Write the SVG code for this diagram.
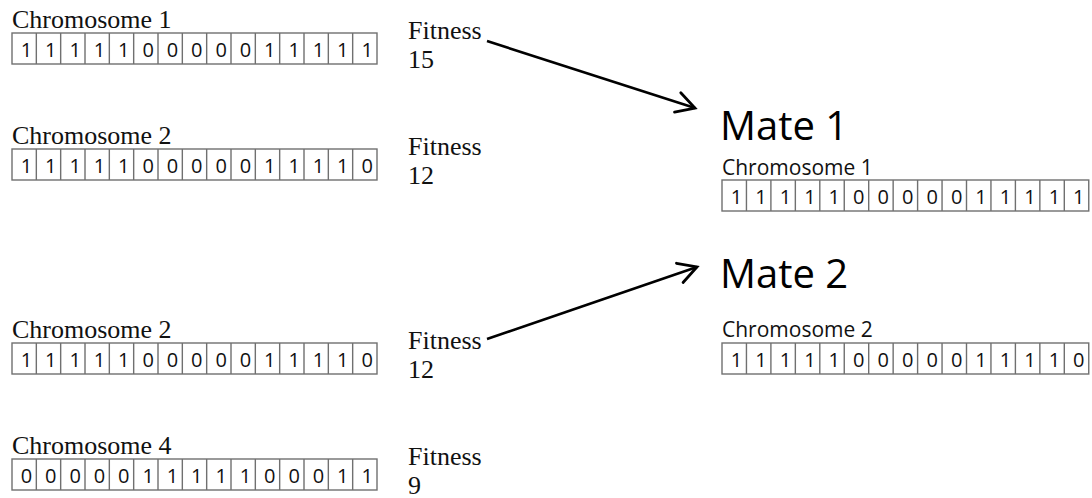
<svg xmlns="http://www.w3.org/2000/svg" xmlns:xlink="http://www.w3.org/1999/xlink" width="1092" height="498" viewBox="0 0 1092 498">
<style>
.lab{font-family:"Liberation Serif","Times New Roman",serif;font-size:26px;fill:#111}
.fit{font-family:"Liberation Serif","Times New Roman",serif;font-size:26px;fill:#111}
.bit{font-family:"Open Sans","Noto Sans",sans-serif;font-size:20px;fill:#111;text-anchor:middle}
.mate{font-family:"Open Sans","Noto Sans",sans-serif;font-size:40px;fill:#000}
.rlab{font-family:"Open Sans","Noto Sans",sans-serif;font-size:21px;fill:#111}
.cell{fill:#fff;stroke:#707070;stroke-width:1.4}
.div{fill:none;stroke:#707070;stroke-width:1.4}
.arrow{fill:none;stroke:#000;stroke-width:2.6;marker-end:url(#arr)}
</style>
<defs>
<marker id="arr" markerUnits="userSpaceOnUse" markerWidth="30" markerHeight="30" viewBox="-22 -14 26 28" refX="0" refY="0" orient="auto" overflow="visible">
<path d="M-17,-9.5 L0,0 L-17,9.5" fill="none" stroke="#000" stroke-width="2.6" stroke-linecap="round" stroke-linejoin="miter"/>
</marker>
<g id="stripL">
<rect class="cell" x="0" y="0" width="365" height="31"/>
<path class="div" d="M24.33 0v31M48.67 0v31M73 0v31M97.33 0v31M121.67 0v31M146 0v31M170.33 0v31M194.67 0v31M219 0v31M243.33 0v31M267.67 0v31M292 0v31M316.33 0v31M340.67 0v31"/>
</g>
<g id="stripR">
<rect class="cell" x="0" y="0" width="366.75" height="31"/>
<path class="div" d="M24.45 0v31M48.9 0v31M73.35 0v31M97.8 0v31M122.25 0v31M146.7 0v31M171.15 0v31M195.6 0v31M220.05 0v31M244.5 0v31M268.95 0v31M293.4 0v31M317.85 0v31M342.3 0v31"/>
</g>
</defs>
<rect x="0" y="0" width="1092" height="498" fill="#fff"/>

<g id="connectors">
<path class="arrow" d="M487 41 L695 108"/>
<path class="arrow" d="M487 339 L697 267"/>
</g>

<g id="chrom1">
<text class="lab" x="12" y="28">Chromosome 1</text>
<use xlink:href="#stripL" x="12" y="33"/>
<text class="bit" x="26.5 50.8 75.2 99.5 123.8 148.2 172.5 196.8 221.2 245.5 269.8 294.2 318.5 342.8 367.2" y="57">111110000011111</text>
</g>
<g id="fitness1">
<text class="fit" x="408" y="39">Fitness</text>
<text class="fit" x="408" y="68">15</text>
</g>

<g id="chrom2">
<text class="lab" x="12" y="144">Chromosome 2</text>
<use xlink:href="#stripL" x="12" y="149"/>
<text class="bit" x="26.5 50.8 75.2 99.5 123.8 148.2 172.5 196.8 221.2 245.5 269.8 294.2 318.5 342.8 367.2" y="173">111110000011110</text>
</g>
<g id="fitness2">
<text class="fit" x="408" y="155">Fitness</text>
<text class="fit" x="408" y="184">12</text>
</g>

<g id="chrom2b">
<text class="lab" x="12" y="338">Chromosome 2</text>
<use xlink:href="#stripL" x="12" y="343"/>
<text class="bit" x="26.5 50.8 75.2 99.5 123.8 148.2 172.5 196.8 221.2 245.5 269.8 294.2 318.5 342.8 367.2" y="367">111110000011110</text>
</g>
<g id="fitness3">
<text class="fit" x="408" y="349">Fitness</text>
<text class="fit" x="408" y="378">12</text>
</g>

<g id="chrom4">
<text class="lab" x="12" y="454">Chromosome 4</text>
<use xlink:href="#stripL" x="12" y="459"/>
<text class="bit" x="26.5 50.8 75.2 99.5 123.8 148.2 172.5 196.8 221.2 245.5 269.8 294.2 318.5 342.8 367.2" y="483">000001111100011</text>
</g>
<g id="fitness4">
<text class="fit" x="408" y="465">Fitness</text>
<text class="fit" x="408" y="494">9</text>
</g>

<g id="mate1">
<text class="mate" x="720" y="140">Mate 1</text>
<text class="rlab" x="722" y="175">Chromosome 1</text>
<use xlink:href="#stripR" x="722" y="180"/>
<text class="bit" x="736.5 761 785.4 809.9 834.3 858.8 883.2 907.7 932.1 956.6 981 1005.5 1029.9 1054.4 1078.8" y="204">111110000011111</text>
</g>

<g id="mate2">
<text class="mate" x="720" y="288">Mate 2</text>
<text class="rlab" x="722" y="337">Chromosome 2</text>
<use xlink:href="#stripR" x="722" y="343"/>
<text class="bit" x="736.5 761 785.4 809.9 834.3 858.8 883.2 907.7 932.1 956.6 981 1005.5 1029.9 1054.4 1078.8" y="367">111110000011110</text>
</g>
</svg>
